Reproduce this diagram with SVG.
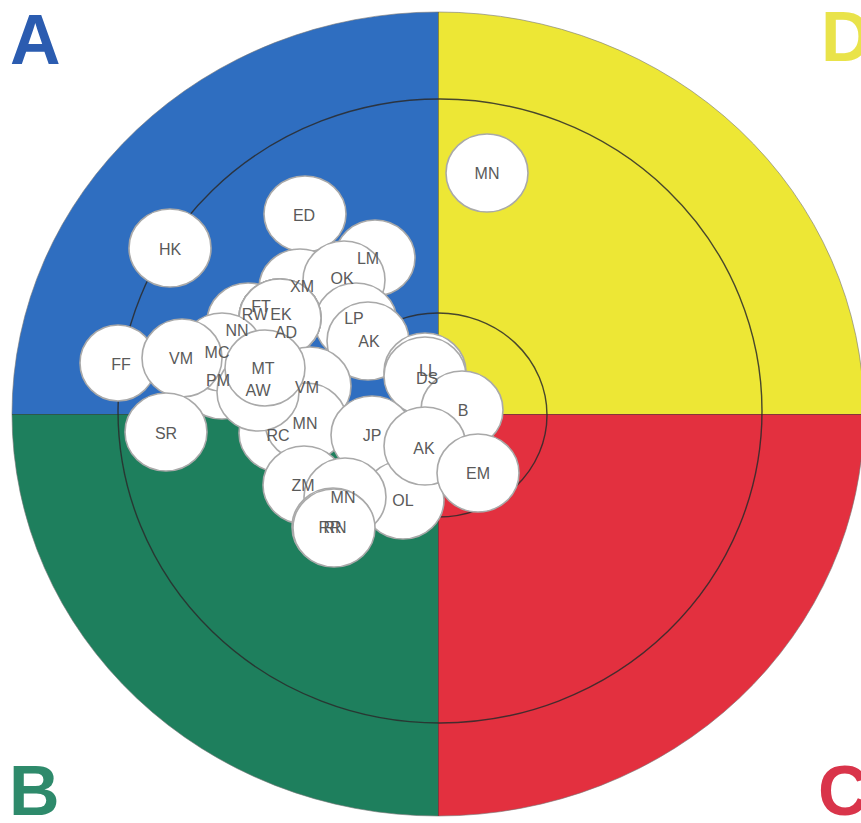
<svg xmlns="http://www.w3.org/2000/svg" width="861" height="823" viewBox="0 0 861 823">
<style>
  .q-line{stroke:#3a3a3a;stroke-width:1;stroke-opacity:0.55;fill:none}
  .ring{fill:none;stroke:#2a2a2a;stroke-width:1.4;stroke-opacity:0.85}
  .bub{fill:#ffffff;stroke:#a9a9a9;stroke-width:1.6}
  .lbl{font-family:"Liberation Sans",Arial,sans-serif;font-size:16px;fill:#5a5a5a;text-anchor:middle}
  .corner{font-family:"Liberation Sans",Arial,sans-serif;font-weight:bold;font-size:70px}
</style>
<rect x="0" y="0" width="861" height="823" fill="#ffffff"/>
<g id="quadrants">
  <path d="M438,414 L12,414 A426,402 0 0 1 438,12 Z" fill="#2f6ec0"/>
  <path d="M438,414 L438,12 A426,402 0 0 1 864,414 Z" fill="#ede735"/>
  <path d="M438,414 L864,414 A426,402 0 0 1 438,816 Z" fill="#e3303f"/>
  <path d="M438,414 L438,816 A426,402 0 0 1 12,414 Z" fill="#1e7f5d"/>
  <ellipse cx="438" cy="414" rx="426" ry="402" fill="none" stroke="#777" stroke-width="1" stroke-opacity="0.6"/>
  <line class="q-line" x1="12" y1="414.5" x2="861" y2="414.5"/>
  <line class="q-line" x1="438.5" y1="12" x2="438.5" y2="816"/>
</g>
<g id="rings">
  <ellipse class="ring" cx="440" cy="411" rx="322" ry="312"/>
  <ellipse class="ring" cx="438" cy="415" rx="109" ry="102"/>
</g>
<g id="corner-labels">
  <text class="corner" x="10" y="64" fill="#2b5cb0">A</text>
  <text class="corner" x="821" y="61" fill="#e9e34a">D</text>
  <text class="corner" x="9" y="815" fill="#2e8a6b">B</text>
  <text class="corner" x="818" y="815" fill="#d9344a">C</text>
</g>
<g id="connectors"></g>
<g id="nodes">
  <g id="node-MN-1"><ellipse class="bub" cx="487" cy="173" rx="41" ry="39"/></g>
  <g id="node-HK"><ellipse class="bub" cx="170" cy="248" rx="41" ry="39"/></g>
  <g id="node-LM"><ellipse class="bub" cx="375" cy="258" rx="40" ry="38"/></g>
  <g id="node-ED"><ellipse class="bub" cx="305" cy="214" rx="41" ry="38"/></g>
  <g id="node-XM"><ellipse class="bub" cx="300" cy="288" rx="41" ry="39"/></g>
  <g id="node-OK"><ellipse class="bub" cx="344" cy="280" rx="41" ry="39"/></g>
  <g id="node-NN"><ellipse class="bub" cx="248" cy="322" rx="41" ry="39"/></g>
  <g id="node-LP"><ellipse class="bub" cx="356" cy="322" rx="41" ry="39"/></g>
  <g id="node-FT"><ellipse class="bub" cx="280" cy="318" rx="41" ry="39"/></g>
  <g id="node-RW"><ellipse class="bub" cx="280" cy="318" rx="41" ry="39"/></g>
  <g id="node-EK"><ellipse class="bub" cx="280" cy="318" rx="41" ry="39"/></g>
  <g id="node-AD"><ellipse class="bub" cx="280" cy="318" rx="41" ry="39"/></g>
  <g id="node-AK-1"><ellipse class="bub" cx="368" cy="341" rx="41" ry="39"/></g>
  <g id="node-FF"><ellipse class="bub" cx="118" cy="363" rx="38" ry="38"/></g>
  <g id="node-PM"><ellipse class="bub" cx="222" cy="380" rx="41" ry="39"/></g>
  <g id="node-MC"><ellipse class="bub" cx="222" cy="352" rx="41" ry="39"/></g>
  <g id="node-VM-1"><ellipse class="bub" cx="182" cy="358" rx="40" ry="39"/></g>
  <g id="node-SR"><ellipse class="bub" cx="166" cy="432" rx="41" ry="39"/></g>
  <g id="node-RC"><ellipse class="bub" cx="280" cy="433" rx="41" ry="39"/></g>
  <g id="node-VM-2"><ellipse class="bub" cx="310" cy="386" rx="41" ry="39"/></g>
  <g id="node-MN-2"><ellipse class="bub" cx="306" cy="422" rx="41" ry="39"/></g>
  <g id="node-AW"><ellipse class="bub" cx="258" cy="392" rx="41" ry="39"/></g>
  <g id="node-MT"><ellipse class="bub" cx="265" cy="368" rx="40" ry="38"/></g>
  <g id="node-LL"><ellipse class="bub" cx="425" cy="372" rx="41" ry="39"/></g>
  <g id="node-DS"><ellipse class="bub" cx="425" cy="376" rx="41" ry="39"/></g>
  <g id="node-JP"><ellipse class="bub" cx="372" cy="435" rx="41" ry="39"/></g>
  <g id="node-B"><ellipse class="bub" cx="462" cy="410" rx="41" ry="39"/></g>
  <g id="node-OL"><ellipse class="bub" cx="403" cy="500" rx="41" ry="39"/></g>
  <g id="node-AK-2"><ellipse class="bub" cx="425" cy="446" rx="41" ry="39"/></g>
  <g id="node-EM"><ellipse class="bub" cx="478" cy="473" rx="41" ry="39"/></g>
  <g id="node-ZM"><ellipse class="bub" cx="304" cy="485" rx="41" ry="39"/></g>
  <g id="node-MN-3"><ellipse class="bub" cx="345" cy="497" rx="41" ry="39"/></g>
  <g id="node-RR"><ellipse class="bub" cx="333" cy="527" rx="41" ry="39"/></g>
  <g id="node-RN"><ellipse class="bub" cx="334" cy="528" rx="41" ry="39"/></g>
</g>
<g id="labels">
  <text class="lbl" x="487" y="179">MN</text>
  <text class="lbl" x="170" y="255">HK</text>
  <text class="lbl" x="368" y="264">LM</text>
  <text class="lbl" x="304" y="221">ED</text>
  <text class="lbl" x="302" y="292">XM</text>
  <text class="lbl" x="342" y="284">OK</text>
  <text class="lbl" x="237" y="336">NN</text>
  <text class="lbl" x="354" y="324">LP</text>
  <text class="lbl" x="261" y="312">FT</text>
  <text class="lbl" x="255" y="320">RW</text>
  <text class="lbl" x="281" y="320">EK</text>
  <text class="lbl" x="286" y="338">AD</text>
  <text class="lbl" x="369" y="347">AK</text>
  <text class="lbl" x="121" y="370">FF</text>
  <text class="lbl" x="218" y="386">PM</text>
  <text class="lbl" x="217" y="358">MC</text>
  <text class="lbl" x="181" y="364">VM</text>
  <text class="lbl" x="166" y="439">SR</text>
  <text class="lbl" x="278" y="441">RC</text>
  <text class="lbl" x="307" y="393">VM</text>
  <text class="lbl" x="305" y="429">MN</text>
  <text class="lbl" x="258" y="396">AW</text>
  <text class="lbl" x="263" y="374">MT</text>
  <text class="lbl" x="428" y="376">LL</text>
  <text class="lbl" x="427" y="384">DS</text>
  <text class="lbl" x="372" y="441">JP</text>
  <text class="lbl" x="463" y="416">B</text>
  <text class="lbl" x="403" y="506">OL</text>
  <text class="lbl" x="424" y="454">AK</text>
  <text class="lbl" x="478" y="479">EM</text>
  <text class="lbl" x="303" y="491">ZM</text>
  <text class="lbl" x="343" y="503">MN</text>
  <text class="lbl" x="330" y="533">RR</text>
  <text class="lbl" x="335" y="533">RN</text>
</g>
</svg>
